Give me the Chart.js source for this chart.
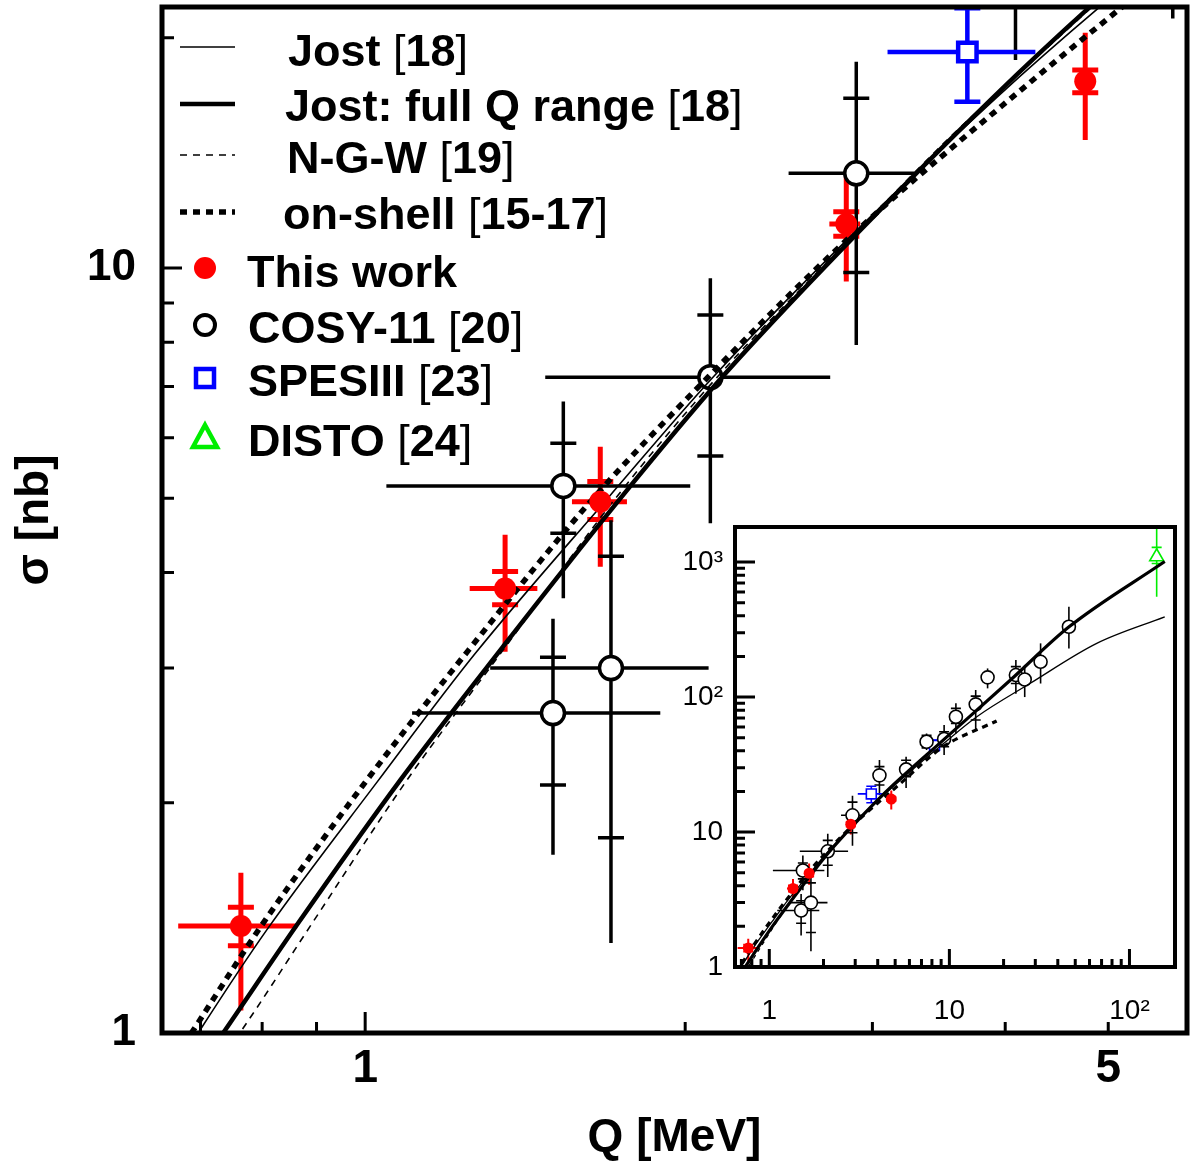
<!DOCTYPE html>
<html><head><meta charset="utf-8">
<script src="https://cdn.jsdelivr.net/npm/chart.js@4/dist/chart.umd.min.js"></script>
<style>
html,body{margin:0;padding:0;background:#fff;}
#wrap{position:relative;width:1194px;height:1163px;overflow:hidden;}
#main{position:absolute;left:0;top:0;}
#inset{position:absolute;left:620px;top:500px;}
</style></head><body>
<div id="wrap"><canvas id="main" width="1194" height="1163"></canvas><canvas id="inset" width="570" height="540"></canvas></div>
<script>
// ---------------- data ----------------
// theory curves (Q [MeV], sigma [nb])
const jostQ         = [0.66, 0.6994, 0.8084, 1.026, 1.269, 1.693, 2.125, 2.878, 3.923, 4.894, 9.24, 14.2, 28, 65.8, 157];
const jostSigma     = [0.887, 1.009, 1.365, 2.128, 3.133, 5.01, 7.203, 11.09, 16.69, 21.86, 45, 71.5, 126, 250, 393];
const jostFullQ     = [0.70, 0.7385, 0.8624, 1.079, 1.348, 1.738, 2.167, 2.901, 3.889, 4.808, 9.24, 22, 46, 157];
const jostFullSigma = [0.906, 1.009, 1.384, 2.141, 3.20, 5.00, 7.203, 11.09, 16.67, 21.96, 48, 135, 330, 1010];
const ngwQ          = [0.73, 0.7656, 0.8892, 1.095, 1.348, 1.715, 2.144, 2.871, 3.304, 3.55, 4.83];
const ngwSigma      = [0.92, 1.009, 1.384, 2.142, 3.166, 4.975, 7.203, 10.99, 13.43, 14.83, 21.96];
const onShellQ      = [0.655, 0.6893, 0.7995, 1.004, 1.251, 1.634, 2.102, 2.860, 4.284, 5.11, 9.24, 18.3];
const onShellSigma  = [0.905, 1.009, 1.384, 2.142, 3.166, 4.975, 7.203, 10.99, 17.79, 21.74, 42.8, 66.5];

// This work
const thisWorkQ      = [0.764, 1.354, 1.664, 2.835, 4.757];
const thisWorkSigma  = [1.38, 3.81, 4.95, 11.42, 17.55];
const thisWorkQLo    = [0.667, 1.254, 1.565, 2.733, 4.757];
const thisWorkQHi    = [0.863, 1.452, 1.763, 2.922, 4.757];
const thisWorkSigLo  = [1.07, 3.15, 4.07, 9.60, 14.7];
const thisWorkSigHi  = [1.62, 4.48, 5.84, 13.16, 20.3];
const thisWorkInLo   = [1.30, 3.63, 4.69, 11.0, 16.95];
const thisWorkInHi   = [1.46, 4.01, 5.26, 11.85, 18.15];

// COSY-11
const cosyQ     = [1.502, 1.536, 1.703, 2.112, 2.897, 4.09, 5.75, 7.47, 9.35, 10.87, 14.0, 16.3, 23.4, 26.2, 32.1, 46.1];
const cosySigma = [2.62, 5.19, 3.00, 7.20, 13.30, 26.3, 29.1, 46.7, 48.9, 71.5, 88.3, 140, 145.6, 135, 182.5, 332];
const cosyQLo   = [1.107, 1.047, 1.311, 1.477, 2.502, 4.09, 5.75, 7.47, 9.35, 10.87, 14.0, 16.3, 23.4, 26.2, 32.1, 46.1];
const cosyQHi   = [1.895, 2.022, 2.104, 2.738, 3.29, 4.09, 5.75, 7.47, 9.35, 10.87, 14.0, 16.3, 23.4, 26.2, 32.1, 46.1];
const cosySigLo = [1.71, 3.70, 1.311, 4.64, 7.93, 18.7, 21.2, 40.5, 37.2, 53.8, 57, 116, 106, 100, 126, 229];
const cosySigHi = [3.48, 6.69, 4.68, 9.70, 18.6, 34.2, 36.1, 53.8, 62, 89.8, 112.7, 163, 188, 173, 250, 467];
const cosyInLo  = [2.11, 4.50, 1.80, 5.68, 9.87, 22.3, 25.7, 42, 42.8, 63.8, 67.6, null, 126, null, null, null];
const cosyInHi  = [3.10, 5.90, 4.20, 8.68, 16.67, 30.5, 34.0, 52, 55.4, 82.5, 101.7, null, 168, null, null, null];

// SPESIII
const spesQ     = [3.685, 8.27];
const spesSigma = [19.16, 43.9];
const spesQLo   = [3.10, 7.8];
const spesQHi   = [4.27, 8.75];
const spesSigLo = [16.5, 40.0];
const spesSigHi = [21.86, 48.0];

// DISTO
const distoQ     = [141.6];
const distoSigma = [1096];
const distoSigLo = [553];
const distoSigHi = [1815];
const distoInLo  = [977];
const distoInHi  = [1285];

// ticks
const mainQTicks      = [0.7, 0.8, 0.9, 1, 2, 3, 4, 5];
const mainQLabels     = [1, 5];
const mainSigmaTicks  = [1, 2, 3, 4, 5, 6, 7, 8, 9, 10, 20];
const mainSigmaLabels = [1, 10];
const insetQTicks     = [0.7, 0.8, 0.9, 1, 2, 3, 4, 5, 6, 7, 8, 9, 10, 20, 30, 40, 50, 60, 70, 80, 90, 100];
const insetSigmaTicks = [1, 2, 3, 4, 5, 6, 7, 8, 9, 10, 20, 30, 40, 50, 60, 70, 80, 90, 100, 200, 300, 400, 500, 600, 700, 800, 900, 1000];
const insetLabelText  = {1: '1', 10: '10', 100: '10\u00B2', 1000: '10\u00B3'};

const legendLabels = ['Jost [18]', 'Jost: full Q range [18]', 'N-G-W [19]', 'on-shell [15-17]',
                      'This work', 'COSY-11 [20]', 'SPESIII [23]', 'DISTO [24]'];

// ---------------- helpers ----------------
const FONT = "'Liberation Sans', Arial, Helvetica, sans-serif";
function curve(xs, ys) { return xs.map((x, i) => ({x, y: ys[i]})); }
function withErrors(q, s, qLo, qHi, sLo, sHi, inLo, inHi) {
  return q.map((v, i) => ({x: v, y: s[i], xMin: qLo ? qLo[i] : v, xMax: qHi ? qHi[i] : v,
    yMin: sLo[i], yMax: sHi[i], yIn: [inLo ? inLo[i] : null, inHi ? inHi[i] : null]}));
}
const isDecade = v => Math.abs(Math.log10(v) - Math.round(Math.log10(v))) < 1e-9;
function fixSize(prop, val) {
  return s => { s[prop] = val; s.paddingTop = 0; s.paddingBottom = 0; s.paddingLeft = 0; s.paddingRight = 0; };
}

function buildDatasets(st) {
  return [
    {label: legendLabels[4], data: withErrors(thisWorkQ, thisWorkSigma, thisWorkQLo, thisWorkQHi, thisWorkSigLo, thisWorkSigHi, thisWorkInLo, thisWorkInHi),
     pointStyle: 'circle', pointRadius: st.redR, backgroundColor: '#ff0000', borderColor: '#ff0000', borderWidth: 0,
     errorBars: {color: '#ff0000', width: st.redErr, cap: st.cap}, order: -1, clip: 0},
    {label: legendLabels[0], data: curve(jostQ, jostSigma), showLine: true, pointRadius: 0, borderColor: '#000', borderWidth: st.thin,
     cubicInterpolationMode: 'monotone', order: 0, clip: 0},
    {label: legendLabels[1], data: curve(jostFullQ, jostFullSigma), showLine: true, pointRadius: 0, borderColor: '#000', borderWidth: st.thick,
     cubicInterpolationMode: 'monotone', order: 0, clip: 0},
    {label: legendLabels[2], data: curve(ngwQ, ngwSigma), showLine: true, pointRadius: 0, borderColor: '#000', borderWidth: st.thin,
     borderDash: st.ngwDash, cubicInterpolationMode: 'monotone', order: 0, clip: 0},
    {label: legendLabels[3], data: curve(onShellQ, onShellSigma), showLine: true, pointRadius: 0, borderColor: '#000', borderWidth: st.dotW,
     borderDash: st.dotDash, cubicInterpolationMode: 'monotone', order: 0, clip: 0},
    {label: legendLabels[5], data: withErrors(cosyQ, cosySigma, cosyQLo, cosyQHi, cosySigLo, cosySigHi, cosyInLo, cosyInHi),
     pointStyle: 'circle', pointRadius: st.cosyR, backgroundColor: '#fff', borderColor: '#000', borderWidth: st.cosyW,
     errorBars: {color: '#000', width: st.blackErr, cap: st.cap}, order: 1, clip: 0},
    {label: legendLabels[6], data: withErrors(spesQ, spesSigma, spesQLo, spesQHi, spesSigLo, spesSigHi, spesSigLo, spesSigHi),
     pointStyle: 'rect', pointRadius: st.spesR, backgroundColor: '#fff', borderColor: '#0000ff', borderWidth: st.spesW,
     errorBars: {color: '#0000ff', width: st.blueErr, cap: st.cap}, order: 1, clip: 0},
    {label: legendLabels[7], data: withErrors(distoQ, distoSigma, null, null, distoSigLo, distoSigHi, distoInLo, distoInHi),
     pointStyle: 'triangle', pointRadius: st.distoR, backgroundColor: '#fff', borderColor: '#00ee00', borderWidth: st.distoW,
     errorBars: {color: '#00ee00', width: st.greenErr, cap: st.cap}, order: 1, clip: 0}
  ];
}

const errorBarPlugin = {
  id: 'errorBars',
  beforeDatasetsDraw(chart) {
    const {ctx, chartArea: a, scales: {x, y}} = chart;
    ctx.save();
    ctx.beginPath(); ctx.rect(a.left, a.top, a.right - a.left, a.bottom - a.top); ctx.clip();
    chart.data.datasets.forEach(ds => {
      const eb = ds.errorBars; if (!eb) return;
      ctx.strokeStyle = eb.color; ctx.lineWidth = eb.width; ctx.lineCap = 'butt'; ctx.setLineDash([]);
      ds.data.forEach(p => {
        const px = x.getPixelForValue(p.x), py = y.getPixelForValue(p.y);
        ctx.beginPath();
        if (p.xMin !== p.xMax) { ctx.moveTo(x.getPixelForValue(p.xMin), py); ctx.lineTo(x.getPixelForValue(p.xMax), py); }
        ctx.moveTo(px, y.getPixelForValue(p.yMin)); ctx.lineTo(px, y.getPixelForValue(p.yMax));
        p.yIn.forEach(v => { if (v == null) return; const yy = y.getPixelForValue(v); ctx.moveTo(px - eb.cap, yy); ctx.lineTo(px + eb.cap, yy); });
        ctx.stroke();
      });
    });
    ctx.restore();
  }
};

const framePlugin = {
  id: 'frame',
  beforeDraw(chart, args, opts) {
    if (!opts.fill) return;
    const {ctx, chartArea: a} = chart;
    ctx.save(); ctx.fillStyle = opts.fill; ctx.fillRect(a.left, a.top, a.right - a.left, a.bottom - a.top); ctx.restore();
  },
  afterDatasetsDraw(chart, args, opts) {
    const {ctx, chartArea: a, scales: {x, y}} = chart;
    ctx.save(); ctx.strokeStyle = '#000'; ctx.setLineDash([]);
    ctx.lineWidth = opts.tickWidth;
    ctx.beginPath();
    x.ticks.forEach(t => { const px = x.getPixelForValue(t.value); const L = isDecade(t.value) ? opts.xMajor : opts.xMinor;
      ctx.moveTo(px, a.bottom); ctx.lineTo(px, a.bottom - L); });
    y.ticks.forEach(t => { const py = y.getPixelForValue(t.value); const L = isDecade(t.value) ? opts.yMajor : opts.yMinor;
      ctx.moveTo(a.left, py); ctx.lineTo(a.left + L, py); });
    ctx.stroke();
    ctx.lineWidth = opts.frameWidth;
    ctx.strokeRect(a.left, a.top, a.right - a.left, a.bottom - a.top);
    ctx.restore();
  }
};

function drawMixed(ctx, text, x, y, size) {
  text.split(/([\[\]])/).forEach(p => {
    if (!p) return;
    ctx.font = (p === '[' || p === ']' ? '' : 'bold ') + size + 'px ' + FONT;
    ctx.fillText(p, x, y);
    x += ctx.measureText(p).width;
  });
}

const legendPlugin = {
  id: 'customLegend',
  afterDraw(chart, args, opts) {
    const ctx = chart.ctx; const ds = chart.data.datasets;
    const rowY = opts.rowY, textX = opts.textX;
    ctx.save(); ctx.fillStyle = '#000'; ctx.textBaseline = 'alphabetic';
    [1, 2, 3, 4].forEach((di, i) => {
      const d = ds[di];
      ctx.strokeStyle = d.borderColor; ctx.lineWidth = d.borderWidth; ctx.setLineDash(d.borderDash || []);
      ctx.beginPath(); ctx.moveTo(opts.sampleX0, rowY[i]); ctx.lineTo(opts.sampleX1, rowY[i]); ctx.stroke();
    });
    ctx.setLineDash([]);
    const mx = opts.markerX;
    ctx.fillStyle = ds[0].backgroundColor; ctx.beginPath(); ctx.arc(mx, rowY[4], 11, 0, Math.PI * 2); ctx.fill();
    ctx.strokeStyle = '#000'; ctx.lineWidth = 4; ctx.fillStyle = '#fff';
    ctx.beginPath(); ctx.arc(mx, rowY[5], 10, 0, Math.PI * 2); ctx.fill(); ctx.stroke();
    ctx.strokeStyle = ds[6].borderColor; ctx.lineWidth = 4.5; ctx.strokeRect(mx - 9, rowY[6] - 9, 18, 18);
    ctx.strokeStyle = ds[7].borderColor; ctx.lineWidth = 4.5;
    ctx.beginPath(); ctx.moveTo(mx, rowY[7] - 12); ctx.lineTo(mx + 12, rowY[7] + 10); ctx.lineTo(mx - 12, rowY[7] + 10); ctx.closePath(); ctx.stroke();
    ctx.fillStyle = '#000';
    legendLabels.forEach((t, i) => drawMixed(ctx, t, textX[i], rowY[i] + opts.baseOff[i], 45));
    ctx.restore();
  }
};

// ---------------- main chart ----------------
new Chart(document.getElementById('main'), {
  type: 'scatter',
  data: {datasets: buildDatasets({redR: 11, redErr: 5, cap: 13, thin: 1.6, thick: 4.5, ngwDash: [7, 6], dotW: 5.5, dotDash: [7, 6],
    cosyR: 11.5, cosyW: 3.5, blackErr: 3.5, spesR: 13, spesW: 4.5, blueErr: 4.5, distoR: 12, distoW: 4, greenErr: 4})},
  options: {
    responsive: false, animation: false, events: [],
    layout: {autoPadding: false, padding: {top: 7, right: 7, left: 0, bottom: 0}},
    plugins: {
      legend: {display: false}, tooltip: {enabled: false},
      frame: {tickWidth: 3, xMajor: 21, xMinor: 11, yMajor: 20, yMinor: 12, frameWidth: 5},
      customLegend: {rowY: [47, 104, 155, 212, 268, 325, 378, 437], textX: [288, 285, 287, 283, 247, 248, 248, 248],
        baseOff: [19, 17, 18, 17, 19, 18, 18, 19], sampleX0: 180, sampleX1: 235, markerX: 205}
    },
    scales: {
      x: {type: 'logarithmic', bounds: 'data', min: 0.644, max: 5.93,
        afterBuildTicks: s => { s.ticks = mainQTicks.map(v => ({value: v})); },
        afterFit: fixSize('height', 130),
        grid: {display: false, drawTicks: false}, border: {display: false},
        ticks: {autoSkip: false, maxRotation: 0, padding: 9, color: '#000', font: {family: FONT, size: 46, weight: 'bold'},
          callback: v => mainQLabels.includes(v) ? String(v) : ''},
        title: {display: true, text: 'Q [MeV]', color: '#000', font: {family: FONT, size: 46, weight: 'bold', lineHeight: 1}, padding: {top: 0, bottom: 2}}},
      y: {type: 'logarithmic', bounds: 'data', min: 1, max: 21.94,
        afterBuildTicks: s => { s.ticks = mainSigmaTicks.map(v => ({value: v})); },
        afterFit: fixSize('width', 162),
        grid: {display: false, drawTicks: false}, border: {display: false},
        ticks: {autoSkip: false, padding: 26, color: '#000', font: {family: FONT, size: 44, weight: 'bold'},
          callback: v => mainSigmaLabels.includes(v) ? String(v) : ''},
        title: {display: true, text: '\u03C3 [nb]', color: '#000', font: {family: FONT, size: 46, weight: 'bold', lineHeight: 1}, padding: {top: 12, bottom: 0}}}
    }
  },
  plugins: [errorBarPlugin, framePlugin, legendPlugin]
});

// ---------------- inset chart ----------------
new Chart(document.getElementById('inset'), {
  type: 'scatter',
  data: {datasets: buildDatasets({redR: 5.5, redErr: 2, cap: 5, thin: 1.3, thick: 3.2, ngwDash: [4, 4], dotW: 3.2, dotDash: [6, 5],
    cosyR: 6.5, cosyW: 1.6, blackErr: 1.6, spesR: 7, spesW: 1.6, blueErr: 1.6, distoR: 8, distoW: 1.6, greenErr: 1.6})},
  options: {
    responsive: false, animation: false, events: [],
    layout: {autoPadding: false, padding: {top: 27, right: 15, left: 0, bottom: 0}},
    plugins: {
      legend: {display: false}, tooltip: {enabled: false},
      frame: {fill: '#fff', tickWidth: 3, xMajor: 18, xMinor: 8, yMajor: 20, yMinor: 10, frameWidth: 4}
    },
    scales: {
      x: {type: 'logarithmic', bounds: 'data', min: 0.645, max: 179,
        afterBuildTicks: s => { s.ticks = insetQTicks.map(v => ({value: v})); },
        afterFit: fixSize('height', 73),
        grid: {display: false, drawTicks: false}, border: {display: false},
        ticks: {autoSkip: false, maxRotation: 0, padding: 27, color: '#000', font: {family: FONT, size: 28},
          callback: v => insetLabelText[v] || ''}},
      y: {type: 'logarithmic', bounds: 'data', min: 1, max: 1820,
        afterBuildTicks: s => { s.ticks = insetSigmaTicks.map(v => ({value: v})); },
        afterFit: fixSize('width', 115),
        grid: {display: false, drawTicks: false}, border: {display: false},
        ticks: {autoSkip: false, padding: 12, color: '#000', font: {family: FONT, size: 28},
          callback: v => insetLabelText[v] || ''}}
    }
  },
  plugins: [framePlugin, errorBarPlugin]
});
</script>
</body></html>
